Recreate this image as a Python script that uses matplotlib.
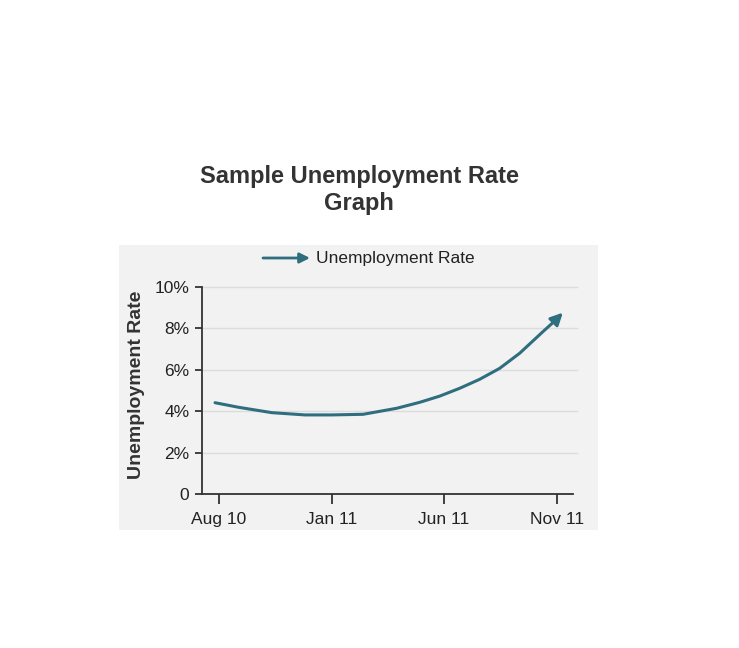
import matplotlib.pyplot as plt
from matplotlib.patches import Rectangle

plt.rcParams['font.family'] = ['Liberation Sans', 'DejaVu Sans']

# months since Aug 2010 (last point is the arrow tip)
months = [-0.18, 0.86, 2.34, 3.82, 5.00, 6.40, 7.89, 8.92, 9.81, 10.70,
          11.58, 12.47, 13.36, 14.39, 14.91, 15.28]
rate = [4.41, 4.19, 3.93, 3.82, 3.82, 3.85, 4.14, 4.43, 4.73, 5.11,
        5.54, 6.07, 6.80, 7.84, 8.35, 8.76]
tick_pos = [0, 5, 10, 15]
tick_labels = ['Aug 10', 'Jan 11', 'Jun 11', 'Nov 11']
y_ticks = [0, 2, 4, 6, 8, 10]
y_labels = ['0', '2%', '4%', '6%', '8%', '10%']

color = '#2f6e7e'
W, H = 739, 648
fig = plt.figure(figsize=(W / 100, H / 100), dpi=100)

# gray panel behind the chart
fig.patches.append(Rectangle((119 / W, 1 - 530 / H), (598 - 119) / W, (530 - 245) / H,
                             transform=fig.transFigure, facecolor='#f2f2f2',
                             edgecolor='none', zorder=-5))

ax = fig.add_axes([202 / W, 1 - 494 / H, (573 - 202) / W, (494 - 287) / H])
ax.set_facecolor('none')

ax.plot(months[:-1], rate[:-1], color=color, lw=2.2, solid_capstyle='round',
        solid_joinstyle='round')
ax.annotate('', xy=(months[-1], rate[-1]), xytext=(months[-2], rate[-2]),
            arrowprops=dict(arrowstyle='-|>', color=color, lw=2.2,
                            mutation_scale=18, shrinkA=0, shrinkB=0))

ax.set_xlim(-0.76, 15.73)
ax.set_ylim(0, 10)
ax.set_xticks(tick_pos)
ax.set_xticklabels(tick_labels, fontsize=12.5, color='#222222')
ax.set_yticks(y_ticks)
ax.set_yticklabels(y_labels, fontsize=12.5, color='#222222')
ax.tick_params(axis='x', length=7, width=1.3, color='#333333', pad=6)
ax.tick_params(axis='y', length=5, width=1.3, color='#333333', pad=4)

for y in y_ticks[1:]:
    ax.axhline(y, xmin=0, xmax=1.01, color='#dcdcdc', lw=1, zorder=0, clip_on=False)

for s in ['top', 'right']:
    ax.spines[s].set_visible(False)
for s in ['left', 'bottom']:
    ax.spines[s].set_color('#333333')
    ax.spines[s].set_linewidth(1.3)

ax.set_ylabel('Unemployment Rate', fontsize=14, fontweight='bold', color='#333333')
ax.yaxis.set_label_coords(-0.153, 0.527)

fig.text(359 / W, 1 - 190 / H, 'Sample Unemployment Rate\nGraph', ha='center', va='center',
         fontsize=17, fontweight='bold', color='#333333', linespacing=1.2)

# legend drawn by hand: arrow plus text
ax.annotate('', xy=(310 / W, 1 - 258 / H), xytext=(263 / W, 1 - 258 / H),
            xycoords='figure fraction', textcoords='figure fraction',
            arrowprops=dict(arrowstyle='-|>', color=color, lw=2,
                            mutation_scale=15, shrinkA=0, shrinkB=0),
            annotation_clip=False)
fig.text(316 / W, 1 - 258 / H, 'Unemployment Rate', ha='left', va='center',
         fontsize=12.5, color='#222222')

fig.savefig('out.png', dpi=100)
